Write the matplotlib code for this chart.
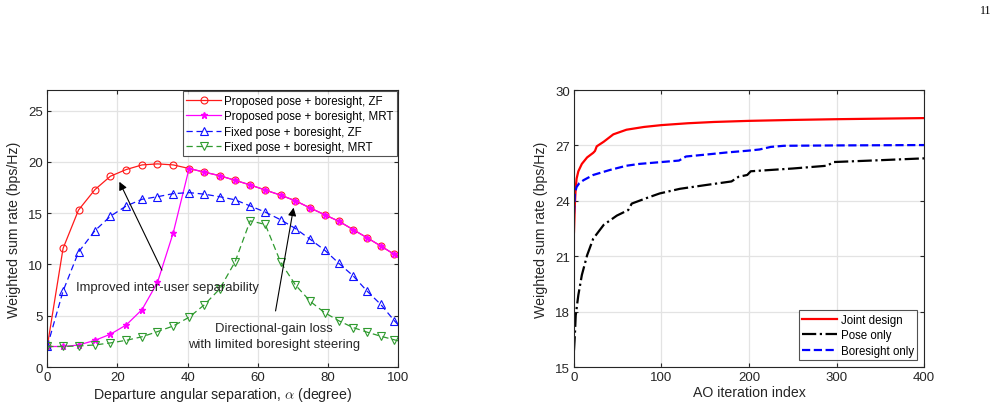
import matplotlib
matplotlib.use('Agg')
import matplotlib.pyplot as plt

plt.rcParams['font.family'] = ['Liberation Sans', 'DejaVu Sans']
plt.rcParams['mathtext.fontset'] = 'cm'

# ---- left panel data: rate vs departure angular separation ----
alpha_deg = [0, 4.5, 8.9, 13.6, 18, 22.5, 27, 31.4, 35.9, 40.4, 44.7, 49.1,
             53.5, 57.8, 62.1, 66.5, 70.7, 74.9, 79.0, 83.1, 87.1, 91.1, 95.0, 98.9, 100]
prop_zf = [2.0, 11.56, 15.3, 17.3, 18.6, 19.25, 19.7, 19.8, 19.7, 19.35, 19.0, 18.65,
           18.2, 17.75, 17.25, 16.75, 16.2, 15.5, 14.85, 14.2, 13.4, 12.6, 11.8, 10.97, 10.7]
prop_mrt = [2.0, 2.0, 2.14, 2.6, 3.2, 4.1, 5.6, 8.25, 13.1, 19.35, 19.0, 18.65,
            18.2, 17.75, 17.25, 16.75, 16.2, 15.5, 14.85, 14.2, 13.4, 12.6, 11.8, 10.97, 10.7]
fixed_zf = [2.0, 7.4, 11.2, 13.3, 14.7, 15.7, 16.35, 16.6, 16.9, 17.0, 16.85, 16.6,
            16.3, 15.7, 15.1, 14.35, 13.5, 12.45, 11.4, 10.1, 8.9, 7.4, 6.1, 4.5, 4.1]
fixed_mrt = [2.0, 2.0, 2.05, 2.15, 2.35, 2.6, 2.95, 3.45, 4.0, 4.85, 6.05, 7.6,
             10.25, 14.25, 13.9, 10.2, 8.0, 6.4, 5.3, 4.5, 3.85, 3.4, 3.0, 2.65, 2.55]

# ---- right panel data: AO convergence ----
it_joint = [0, 1, 2, 3, 5, 9, 15, 22, 24, 26, 34, 45, 60, 80, 100, 130, 160, 200, 250, 300, 350, 400]
rate_joint = [22.3, 23.8, 24.7, 25.2, 25.6, 26.0, 26.35, 26.6, 26.7, 26.95, 27.2, 27.6,
              27.85, 28.0, 28.1, 28.2, 28.27, 28.33, 28.38, 28.42, 28.45, 28.48]
it_pose = [0, 1, 2, 5, 9, 15, 22, 34, 49, 62, 66, 83, 98, 121, 150, 180, 188, 198, 202,
           250, 289, 297, 350, 400]
rate_pose = [15.9, 16.7, 17.8, 18.9, 19.98, 21.05, 21.95, 22.7, 23.2, 23.5, 23.85, 24.15,
             24.4, 24.65, 24.85, 25.05, 25.3, 25.4, 25.6, 25.75, 25.9, 26.1, 26.2, 26.3]
it_bore = [0, 1, 3, 6, 11, 22, 41, 60, 75, 100, 120, 128, 150, 175, 200, 212, 225, 240, 300, 400]
rate_bore = [23.3, 24.4, 24.75, 24.95, 25.12, 25.4, 25.67, 25.9, 26.0, 26.1, 26.18, 26.4,
             26.5, 26.62, 26.72, 26.78, 26.92, 26.98, 27.0, 27.02]

tick_col = '#262626'
grid_col = '#e3e3e3'


def matlab_style(ax):
    ax.grid(True, color=grid_col, lw=0.9)
    ax.set_axisbelow(True)
    ax.tick_params(direction='in', top=True, right=True, length=3,
                   labelsize=9.5, colors=tick_col, pad=3)
    for s in ax.spines.values():
        s.set_color(tick_col)
        s.set_linewidth(0.8)


fig = plt.figure(figsize=(9.97, 4.10), dpi=100)
ax1 = fig.add_axes([0.0474, 0.1024, 0.3521, 0.6756])
ax2 = fig.add_axes([0.5757, 0.1024, 0.3511, 0.6756])

marks = list(range(24))
ax1.plot(alpha_deg, prop_zf, '-', color='#ff1a1a', lw=0.9, marker='o', ms=5,
         mfc='none', mec='#ff1a1a', mew=0.8, markevery=marks,
         label='Proposed pose + boresight, ZF')
ax1.plot(alpha_deg, prop_mrt, '-', color='#ff00ff', lw=0.9, marker='*', ms=5,
         mfc='#ff00ff', mec='#ff00ff', markevery=marks,
         label='Proposed pose + boresight, MRT')
ax1.plot(alpha_deg, fixed_zf, '--', color='#1010ff', lw=0.9, dashes=(5, 3),
         marker='^', ms=5.5, mfc='none', mec='#1010ff', mew=0.8, markevery=marks,
         label='Fixed pose + boresight, ZF')
ax1.plot(alpha_deg, fixed_mrt, '--', color='#2f9a2f', lw=0.9, dashes=(5, 3),
         marker='v', ms=5.5, mfc='none', mec='#2f9a2f', mew=0.8, markevery=marks,
         label='Fixed pose + boresight, MRT')

ax1.set_xlim(0, 100)
ax1.set_ylim(0, 27)
ax1.set_xticks([0, 20, 40, 60, 80, 100])
ax1.set_yticks([0, 5, 10, 15, 20, 25])
matlab_style(ax1)
ax1.set_xlabel(r'Departure angular separation, $\alpha$ (degree)', fontsize=10.2,
               color=tick_col, labelpad=1.5)
ax1.set_ylabel('Weighted sum rate (bps/Hz)', fontsize=10.2, color=tick_col, labelpad=5)
leg1 = ax1.legend(loc='upper right', fontsize=8.3, frameon=True, fancybox=False,
                  edgecolor=tick_col, borderpad=0.3, labelspacing=0.3,
                  handlelength=3.0, handletextpad=0.3, borderaxespad=0.1)
leg1.get_frame().set_linewidth(0.8)

ax1.annotate('', xy=(20.2, 18.3), xytext=(33.0, 9.2),
             arrowprops=dict(arrowstyle='-|>', color='k', lw=0.8, mutation_scale=12))
ax1.text(34.2, 7.8, 'Improved inter-user separability', fontsize=9.4,
         ha='center', va='center', color=tick_col)
ax1.annotate('', xy=(70.3, 15.8), xytext=(64.9, 5.2),
             arrowprops=dict(arrowstyle='-|>', color='k', lw=0.8, mutation_scale=12))
ax1.text(64.6, 3.05, 'Directional-gain loss\nwith limited boresight steering',
         fontsize=9.4, ha='center', va='center', color=tick_col, linespacing=1.4)

ax2.plot(it_joint, rate_joint, '-', color='#ff0000', lw=1.6, label='Joint design')
ax2.plot(it_pose, rate_pose, '-.', color='k', lw=1.6, label='Pose only')
ax2.plot(it_bore, rate_bore, '--', color='#0000ff', lw=1.6, label='Boresight only')
ax2.set_xlim(0, 400)
ax2.set_ylim(15, 30)
ax2.set_xticks([0, 100, 200, 300, 400])
ax2.set_yticks([15, 18, 21, 24, 27, 30])
matlab_style(ax2)
ax2.set_xlabel('AO iteration index', fontsize=10.2, color=tick_col, labelpad=1.5)
ax2.set_ylabel('Weighted sum rate (bps/Hz)', fontsize=10.2, color=tick_col, labelpad=5)
leg2 = ax2.legend(loc='lower right', fontsize=8.3, frameon=True, fancybox=False,
                  edgecolor=tick_col, borderpad=0.3, labelspacing=0.3,
                  handlelength=3.0, handletextpad=0.3, borderaxespad=0.6)
leg2.get_frame().set_linewidth(0.8)

fig.text(0.994, 0.972, '11', fontsize=8.5, family='Liberation Serif', ha='right', va='center')

fig.savefig('out.png', dpi=100)
